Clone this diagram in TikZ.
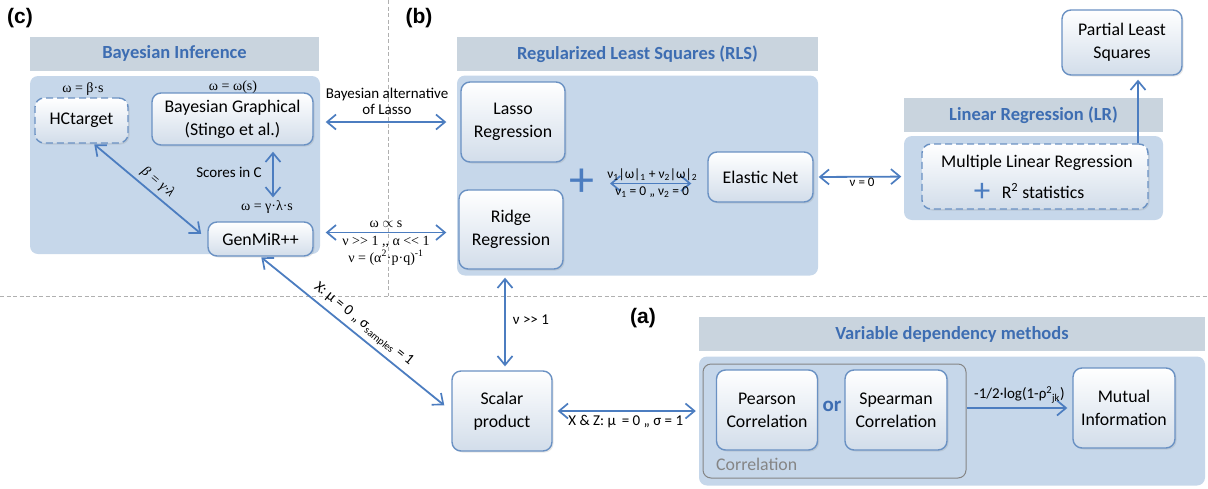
\documentclass[tikz,border=0pt]{standalone}
\usepackage{fontspec}
\setmainfont{Carlito}
\newfontfamily\srf{Liberation Serif}
\newfontfamily\arl{Liberation Sans}
\usetikzlibrary{arrows.meta,shadows}
\definecolor{hdr}{HTML}{C9D4DE}
\definecolor{bod}{HTML}{C6D7EA}
\definecolor{bord}{HTML}{6A91C3}
\definecolor{arr}{HTML}{4C7DC0}
\definecolor{ttl}{HTML}{3D6DB2}
\definecolor{boxbot}{HTML}{D2DDEA}
\definecolor{dashc}{HTML}{B0B0B0}
\definecolor{corrc}{HTML}{858585}
\tikzset{
  hdrbox/.style={fill=hdr, inner sep=0pt, font=\bfseries\fontsize{18.5}{22}\selectfont, text=ttl},
  bodbox/.style={fill=bod, rounded corners=8pt, inner sep=0pt},
  mbox/.style={draw=bord, line width=1.4pt, rounded corners=9pt, top color=white, bottom color=boxbot,
    align=center, font=\fontsize{17.8}{23}\selectfont, inner sep=2pt,
    drop shadow={opacity=0.18, shadow xshift=1.5pt, shadow yshift=-1.5pt}},
  dbox/.style={mbox, dash pattern=on 7pt off 4pt},
  lab/.style={font=\fontsize{15}{16.5}\selectfont, align=center, inner sep=1pt},
  slab/.style={font=\srf\fontsize{14}{16.5}\selectfont, align=center, inner sep=1pt},
  tip/.tip={Straight Barb[length=9pt,width=15pt,line width=1.7pt]},
  darr/.style={draw=arr, line width=1.8pt, {tip}-{tip}},
  sarr/.style={draw=arr, line width=1.8pt, -{tip}},
  panlab/.style={font=\arl\bfseries\fontsize{21}{24}\selectfont, inner sep=0pt},
  sep/.style={draw=dashc, line width=0.9pt, dash pattern=on 4pt off 2.5pt}
}
\begin{document}
\begin{tikzpicture}[x=1pt,y=-1pt]
\useasboundingbox (0,0) rectangle (1208,488);
% separators
\draw[sep] (388,0) -- (388,296);
\draw[sep] (0,296) -- (1208,296);
\node[panlab] (pc) at (20,18) {(c)};
\node[panlab] (pb) at (419,18) {(b)};
\node[panlab] (pa) at (643,318) {(a)};

% panels
\node[hdrbox, minimum width=289pt, minimum height=34pt] (bih) at (174.5,53.5) {Bayesian Inference};
\node[bodbox, minimum width=290pt, minimum height=178pt] (bib) at (175,165) {};
\node[hdrbox, minimum width=361pt, minimum height=34pt] (rlsh) at (637.5,54) {Regularized Least Squares (RLS)};
\node[bodbox, minimum width=361pt, minimum height=200pt] (rlsb) at (637.5,175.5) {};
\node[hdrbox, minimum width=259pt, minimum height=34pt] (lrh) at (1033.5,115) {Linear Regression (LR)};
\node[bodbox, minimum width=259pt, minimum height=84pt] (lrb) at (1033.5,178) {};
\node[hdrbox, minimum width=506pt, minimum height=34pt] (vdh) at (952,334) {Variable dependency methods};
\node[bodbox, minimum width=506pt, minimum height=129pt] (vdb) at (952,421) {};
\node[draw=corrc, line width=1pt, rounded corners=8pt, minimum width=263pt, minimum height=114pt, inner sep=0pt] (corr) at (834.5,421) {};
\node[font=\fontsize{17.8}{20}\selectfont, text=corrc, anchor=west, inner sep=0pt] (corrlab) at (716,464) {Correlation};

% boxes
\node[dbox, minimum width=93pt, minimum height=45pt] (hct) at (81.5,120.5) {HCtarget};
\node[mbox, minimum width=161pt, minimum height=52pt] (bg) at (232.5,119) {Bayesian Graphical\\(Stingo et al.)};
\node[mbox, minimum width=105pt, minimum height=34pt] (gen) at (260.5,239) {GenMiR++};
\node[mbox, minimum width=104pt, minimum height=80pt] (lasso) at (513,122) {Lasso\\Regression};
\node[mbox, minimum width=104pt, minimum height=79pt] (ridge) at (511,229.5) {Ridge\\Regression};
\node[mbox, minimum width=105pt, minimum height=50pt] (enet) at (760.5,177) {Elastic Net};
\node[dbox, minimum width=226pt, minimum height=65pt] (mlr) at (1035,176.5) {};
\node[font=\fontsize{17.8}{20}\selectfont, inner sep=0pt] (mlrt) at (1037,163) {Multiple Linear Regression};
\node[font=\fontsize{17.8}{20}\selectfont, inner sep=0pt] (mlrr) at (1043,191) {R\textsuperscript{2} statistics};
\node[font=\fontsize{33}{33}\selectfont, text=arr, inner sep=0pt] (mlrp) at (982,192.5) {+};
\node[mbox, minimum width=120pt, minimum height=65pt] (pls) at (1122,42.5) {Partial Least\\Squares};
\node[mbox, minimum width=100pt, minimum height=80pt] (scal) at (502,411) {Scalar\\product};
\node[mbox, minimum width=101pt, minimum height=80pt] (pear) at (767,410) {Pearson\\Correlation};
\node[mbox, minimum width=102pt, minimum height=80pt] (spear) at (896,410) {Spearman\\Correlation};
\node[mbox, minimum width=102pt, minimum height=80pt] (mi) at (1124,408) {Mutual\\Information};
\node[font=\bfseries\fontsize{21}{24}\selectfont, text=ttl, inner sep=0pt] (or) at (832,406) {or};
\node[font=\fontsize{50}{50}\selectfont, text=arr, inner sep=0pt] (plus) at (582,182.5) {+};

% labels
\node[slab] (hl) at (83,89) {ω = β·s};
\node[slab] (bl) at (233,87) {ω = ω(s)};
\node[slab] (gl) at (267,207) {ω = γ·λ·s};
\node[lab] (scl) at (229,172) {Scores in C};

% connectors
\draw[darr, shorten <=12pt, shorten >=14pt] (bg.east |- lasso.west) -- node[lab, above=5pt] {Bayesian alternative\\of Lasso} (lasso.west);
\draw[darr, shorten <=12pt, shorten >=12pt] ([yshift=-3pt]gen.east |- ridge.west) --
  node[slab, above=3pt] {ω $\propto$ s}
  node[slab, below=2pt, align=center] {ν >{}> 1 ,, α <{}< 1\\ν = (α\textsuperscript{2}·p·q)\textsuperscript{-1}} ([yshift=-3pt]ridge.west);
\draw[darr, shorten <=6pt, shorten >=2pt] ([xshift=40.5pt]bg.south) -- ([xshift=6pt]gl.north);
\draw[darr, shorten <=1pt, shorten >=8pt] ([xshift=12pt]hct.south) --
  node[sloped, above=3pt, font=\srf\itshape\fontsize{14}{16}\selectfont, inner sep=1pt] {β = γ·λ} (gen.west);
\draw[darr, shorten <=1pt, shorten >=9pt] (gen.south) --
  node[sloped, above=3pt, font=\fontsize{15}{16}\selectfont, inner sep=1pt] {X: μ = 0 ,, σ\textsubscript{samples} = 1} (scal.west);
\draw[darr, shorten <=28pt, shorten >=16pt] ([yshift=-1pt]plus.center) --
  node[lab, above=1pt, pos=0.56, font=\fontsize{13.5}{15}\selectfont] {ν\textsubscript{1}|ω|\textsubscript{1} + ν\textsubscript{2}|ω|\textsubscript{2}}
  node[lab, below=1pt, pos=0.56, font=\fontsize{13.5}{15}\selectfont] {ν\textsubscript{1} = 0 ,, ν\textsubscript{2} = 0} ([yshift=-1pt]plus.center -| enet.west);
\draw[darr, shorten <=5pt, shorten >=20pt] (enet.east) -- node[lab, below=-1pt, pos=0.45, font=\fontsize{13}{14}\selectfont] {ν = 0} (mlr.west);
\draw[sarr, shorten <=0pt, shorten >=4pt] ([xshift=103pt]mlr.north) -- ([xshift=16pt]pls.south);
\draw[darr, shorten <=8pt, shorten >=4pt] ([xshift=-6pt]ridge.south) -- node[lab, right=6pt] {ν >{}> 1} ([xshift=3pt]scal.north);
\draw[darr, shorten <=5pt, shorten >=3pt] (scal.east) -- node[lab, below=2pt] {X \& Z: μ \,= 0 ,, σ = 1} (scal.east -| vdb.west);
\draw[sarr, shorten <=0pt, shorten >=5pt] (corr.east |- mi.west) -- node[lab, above=3pt] {-1/2·log(1-ρ\textsuperscript{2}\textsubscript{jk})} (mi.west);
\end{tikzpicture}
\end{document}
